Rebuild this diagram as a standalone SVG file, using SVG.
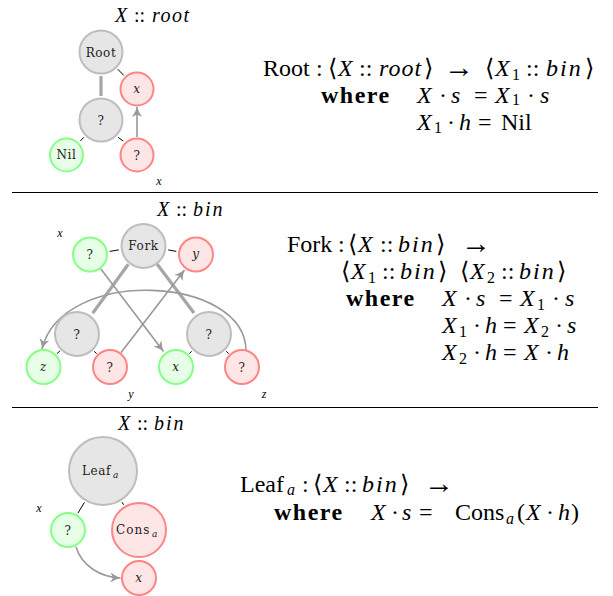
<svg xmlns="http://www.w3.org/2000/svg" width="613" height="596" viewBox="0 0 613 596">
<style>
.gn{fill:#e6e6e6;stroke:#bdbdbd;stroke-width:2}
.grn{fill:#e6ffe6;stroke:#85ff85;stroke-width:2}
.rn{fill:#ffe6e6;stroke:#ff8585;stroke-width:2}
.lbl{font-family:"DejaVu Serif","Liberation Serif",serif;font-size:12px;fill:#222;text-anchor:middle;letter-spacing:0.6px}
.it{font-style:italic}
.tk{stroke:#000;stroke-width:1}
.thick{stroke:#a6a6a6;stroke-width:3.2;fill:none}
.arr{stroke:#999;stroke-width:1.6;fill:none;marker-end:url(#ah)}
.sep{stroke:#000;stroke-width:1}
.eq{font-family:"Liberation Serif","DejaVu Serif",serif;font-size:24px;fill:#000}
.sb{font-size:16px}
.ar{font-size:30px}
.bd{font-weight:bold;letter-spacing:1.5px}
.ls{letter-spacing:2px}
.hd{font-family:"Liberation Serif","DejaVu Serif",serif;font-size:20px;fill:#000}
.sm{font-family:"Liberation Serif","DejaVu Serif",serif;font-size:12px;font-style:italic;fill:#000;text-anchor:middle}
</style>
<defs>
<marker id="ah" markerUnits="userSpaceOnUse" markerWidth="14" markerHeight="14" viewBox="-12 -7 14 14" refX="0" refY="0" orient="auto">
<path d="M0,0 Q-5,-1.5 -10,-5 L-7.5,0 L-10,5 Q-5,1.5 0,0 z" fill="#999"/>
</marker>
</defs>

<g id="separators">
<line class="sep" x1="12" y1="192.5" x2="598" y2="192.5"/>
<line class="sep" x1="12" y1="407.5" x2="598" y2="407.5"/>
</g>

<g id="connectors">
<line class="tk" x1="117.8" y1="69.2" x2="123.7" y2="75.4"/>
<line class="tk" x1="83.8" y1="137.4" x2="80.2" y2="141.1"/>
<line class="tk" x1="118.2" y1="137.4" x2="123.3" y2="141.1"/>
<line class="thick" x1="101" y1="76" x2="101" y2="96"/>
<line class="arr" x1="137" y1="137" x2="137" y2="107"/>
<line class="tk" x1="118.8" y1="249.9" x2="109.7" y2="251.4"/>
<line class="tk" x1="168.2" y1="249.9" x2="176.3" y2="251.4"/>
<line class="tk" x1="60" y1="350.8" x2="57" y2="353.6"/>
<line class="tk" x1="94.3" y1="351.3" x2="96.6" y2="353.6"/>
<line class="tk" x1="191.7" y1="351.3" x2="189.4" y2="353.6"/>
<line class="tk" x1="226.3" y1="351.3" x2="228.6" y2="353.6"/>
<line class="thick" x1="128.3" y1="264.3" x2="92.7" y2="313.3"/>
<line class="thick" x1="157" y1="264" x2="194" y2="313"/>
<line class="arr" x1="100.9" y1="269" x2="163.5" y2="351.5"/>
<line class="arr" x1="120.9" y1="352.7" x2="184.5" y2="270"/>
<path class="arr" d="M246,351 C246,275 62,266 42,349"/>
<line class="tk" x1="84.4" y1="502.4" x2="77.9" y2="513.2"/>
<line class="tk" x1="122" y1="502.2" x2="123.6" y2="504.8"/>
<path class="arr" d="M76,547 C82,566 100,577 120.5,578"/>
</g>

<g id="sec1-nodes">
<g id="root"><circle class="gn" cx="101" cy="52" r="21.5"/><text class="lbl" x="101" y="56.5">Root</text></g>
<g id="root-x"><circle class="rn" cx="137" cy="89" r="16.5"/><text class="lbl it" x="137" y="92.5">x</text></g>
<g id="root-q"><circle class="gn" cx="101" cy="120" r="21.5"/><text class="lbl" x="101" y="124.5">?</text></g>
<g id="root-nil"><circle class="grn" cx="66.5" cy="155" r="16.5"/><text class="lbl" x="66.5" y="159">Nil</text></g>
<g id="root-q2"><circle class="rn" cx="137" cy="155" r="16.5"/><text class="lbl" x="137" y="159.5">?</text></g>
</g>

<g id="sec2-nodes">
<g id="fork"><circle class="gn" cx="143.5" cy="246" r="22"/><text class="lbl" x="143.5" y="250">Fork</text></g>
<g id="fork-gq"><circle class="grn" cx="90" cy="254.5" r="17"/><text class="lbl" x="90" y="259">?</text></g>
<g id="fork-y"><circle class="rn" cx="196" cy="254.5" r="17"/><text class="lbl it" x="196" y="258">y</text></g>
<g id="fork-ql"><circle class="gn" cx="77" cy="334" r="22"/><text class="lbl" x="77" y="338.5">?</text></g>
<g id="fork-qr"><circle class="gn" cx="209" cy="334" r="22"/><text class="lbl" x="209" y="338.5">?</text></g>
<g id="fork-z"><circle class="grn" cx="43.5" cy="367" r="17"/><text class="lbl it" x="43.5" y="370.5">z</text></g>
<g id="fork-rql"><circle class="rn" cx="110" cy="367" r="17"/><text class="lbl" x="110" y="371.5">?</text></g>
<g id="fork-x"><circle class="grn" cx="176" cy="367" r="17"/><text class="lbl it" x="176" y="370.5">x</text></g>
<g id="fork-rqr"><circle class="rn" cx="242" cy="367" r="17"/><text class="lbl" x="242" y="371.5">?</text></g>
</g>

<g id="sec3-nodes">
<g id="leaf"><circle class="gn" cx="103" cy="471" r="34"/><text class="lbl" style="text-anchor:start" x="82" y="475">Leaf<tspan class="it" x="113" y="478" style="font-size:9px">a</tspan></text></g>
<g id="leaf-q"><circle class="grn" cx="68" cy="530" r="17"/><text class="lbl" x="68" y="534.5">?</text></g>
<g id="leaf-cons"><circle class="rn" cx="139" cy="530" r="27"/><text class="lbl" style="text-anchor:start;letter-spacing:1px" x="116" y="534">Cons<tspan class="it" x="152" y="537" style="font-size:9px">a</tspan></text></g>
<g id="leaf-x"><circle class="rn" cx="139" cy="578" r="17"/><text class="lbl it" x="139" y="581.5">x</text></g>
</g>

<g id="labels">
<text class="hd" y="22"><tspan x="115" class="it">X</tspan><tspan x="134">::</tspan><tspan x="152" class="it" style="letter-spacing:1.5px">root</tspan></text>
<text class="sm" x="159" y="185">x</text>
<text class="hd" y="216"><tspan x="157" class="it">X</tspan><tspan x="176">::</tspan><tspan x="193" class="it" style="letter-spacing:2px">bin</tspan></text>
<text class="sm" x="60" y="237">x</text>
<text class="sm" x="131" y="398">y</text>
<text class="sm" x="264" y="398">z</text>
<text class="hd" y="430"><tspan x="118" class="it">X</tspan><tspan x="137">::</tspan><tspan x="154" class="it" style="letter-spacing:2px">bin</tspan></text>
<text class="sm" x="39" y="512">x</text>
</g>

<g id="eq-root">
<text class="eq" y="76"><tspan x="263">Root</tspan><tspan x="316">:</tspan><tspan x="328">⟨</tspan><tspan x="338" class="it">X</tspan><tspan x="359">::</tspan><tspan x="379" class="it" style="letter-spacing:1px">root</tspan><tspan x="424">⟩</tspan><tspan x="444" y="77" class="ar">→</tspan><tspan x="485" y="76">⟨</tspan><tspan x="495" class="it">X</tspan><tspan x="512" y="80" class="sb">1</tspan><tspan x="526" y="76">::</tspan><tspan x="546" class="it ls">bin</tspan><tspan x="585">⟩</tspan></text>
<text class="eq" y="103"><tspan x="321" class="bd">where</tspan><tspan x="417" class="it">X</tspan><tspan x="439">·</tspan><tspan x="451" class="it">s</tspan><tspan x="474">=</tspan><tspan x="495" class="it">X</tspan><tspan x="512" y="105" class="sb">1</tspan><tspan x="527" y="103">·</tspan><tspan x="540" class="it">s</tspan></text>
<text class="eq" y="130"><tspan x="417" class="it">X</tspan><tspan x="434" y="133" class="sb">1</tspan><tspan x="447" y="130">·</tspan><tspan x="459" class="it">h</tspan><tspan x="478">=</tspan><tspan x="501">Nil</tspan></text>
</g>

<g id="eq-fork">
<text class="eq" y="252"><tspan x="287">Fork</tspan><tspan x="338">:</tspan><tspan x="348">⟨</tspan><tspan x="358" class="it">X</tspan><tspan x="380">::</tspan><tspan x="398" class="it ls">bin</tspan><tspan x="436">⟩</tspan><tspan x="461" y="253" class="ar">→</tspan></text>
<text class="eq" y="279"><tspan x="341">⟨</tspan><tspan x="351" class="it">X</tspan><tspan x="368" y="283" class="sb">1</tspan><tspan x="382" y="279">::</tspan><tspan x="400" class="it ls">bin</tspan><tspan x="438">⟩</tspan><tspan x="460">⟨</tspan><tspan x="470" class="it">X</tspan><tspan x="487" y="283" class="sb">2</tspan><tspan x="501" y="279">::</tspan><tspan x="519" class="it ls">bin</tspan><tspan x="557">⟩</tspan></text>
<text class="eq" y="306"><tspan x="346" class="bd">where</tspan><tspan x="442" class="it">X</tspan><tspan x="464">·</tspan><tspan x="476" class="it">s</tspan><tspan x="499">=</tspan><tspan x="520" class="it">X</tspan><tspan x="537" y="310" class="sb">1</tspan><tspan x="552" y="306">·</tspan><tspan x="565" class="it">s</tspan></text>
<text class="eq" y="333"><tspan x="442" class="it">X</tspan><tspan x="459" y="337" class="sb">1</tspan><tspan x="473" y="333">·</tspan><tspan x="485" class="it">h</tspan><tspan x="503">=</tspan><tspan x="524" class="it">X</tspan><tspan x="541" y="337" class="sb">2</tspan><tspan x="555" y="333">·</tspan><tspan x="567" class="it">s</tspan></text>
<text class="eq" y="360"><tspan x="442" class="it">X</tspan><tspan x="459" y="364" class="sb">2</tspan><tspan x="473" y="360">·</tspan><tspan x="485" class="it">h</tspan><tspan x="503">=</tspan><tspan x="524" class="it">X</tspan><tspan x="545">·</tspan><tspan x="557" class="it">h</tspan></text>
</g>

<g id="eq-leaf">
<text class="eq" y="492"><tspan x="240">Leaf</tspan><tspan x="287" y="495" class="it sb">a</tspan><tspan x="302" y="492">:</tspan><tspan x="313">⟨</tspan><tspan x="323" class="it">X</tspan><tspan x="344">::</tspan><tspan x="362" class="it ls">bin</tspan><tspan x="400">⟩</tspan><tspan x="424" y="493" class="ar">→</tspan></text>
<text class="eq" y="520"><tspan x="274" class="bd">where</tspan><tspan x="371" class="it">X</tspan><tspan x="391">·</tspan><tspan x="402" class="it">s</tspan><tspan x="419">=</tspan><tspan x="455">Cons</tspan><tspan x="506" y="524" class="it sb">a</tspan><tspan x="517" y="520">(</tspan><tspan x="526" class="it">X</tspan><tspan x="546">·</tspan><tspan x="558" class="it">h</tspan><tspan x="571">)</tspan></text>
</g>
</svg>
